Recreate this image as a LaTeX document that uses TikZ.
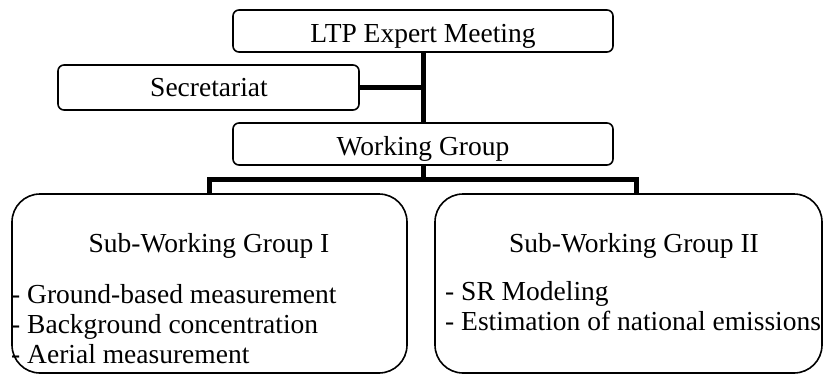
\documentclass[tikz,border=0pt]{standalone}
\usepackage{fontspec}
\setmainfont{Liberation Serif}
\usetikzlibrary{calc}
\tikzset{
  box/.style={draw, line width=1.6pt, rounded corners=6pt, inner sep=0pt},
  bigbox/.style={draw, line width=1.6pt, rounded corners=28pt, inner sep=0pt},
  conn/.style={line width=5pt},
  lbl/.style={inner sep=0pt, anchor=base, font=\fontsize{27.5}{30}\selectfont},
  item/.style={inner sep=0pt, anchor=base west, font=\fontsize{27.5}{30}\selectfont},
}
\begin{document}
\begin{tikzpicture}[x=1pt,y=-1pt]
\useasboundingbox (0,0) rectangle (823,375);
% boxes
\node[box, minimum width=380pt, minimum height=42pt] (ltp) at (423,31) {};
\node[box, minimum width=301pt, minimum height=45pt] (sec) at (208.5,87.5) {};
\node[box, minimum width=380pt, minimum height=42pt] (wg) at (423,144) {};
\node[bigbox, minimum width=395pt, minimum height=179pt] (s1) at (209.5,283.5) {};
\node[bigbox, minimum width=387pt, minimum height=179pt] (s2) at (628.5,283.5) {};
% texts
\node[lbl] (tltp) at (423,42) {LTP Expert Meeting};
\node[lbl] (tsec) at (209,96) {Secretariat};
\node[lbl] (twg) at (423,155) {Working Group};
\node[lbl] (ts1) at (209,252) {Sub-Working Group I};
\node[lbl] (ts2) at (634,252) {Sub-Working Group II};
\node[item] (a1) at (11,303) {- Ground-based measurement};
\node[item] (a2) at (11,333) {- Background concentration};
\node[item] (a3) at (11,363) {- Aerial measurement};
\node[item] (b1) at (445,300) {- SR Modeling};
\node[item] (b2) at (445,330) {- Estimation of national emissions};
% connectors
\coordinate (j) at (423,179);
\coordinate (d1) at (209,194);
\coordinate (d2) at (636,194);
\draw[conn] (ltp.south) -- (wg.north);
\draw[conn] (sec.east) -- (sec.east -| ltp.south);
\draw[conn] (wg.south) -- (j);
\draw[conn] (d1) |- (j) -| (d2);
\end{tikzpicture}
\end{document}
